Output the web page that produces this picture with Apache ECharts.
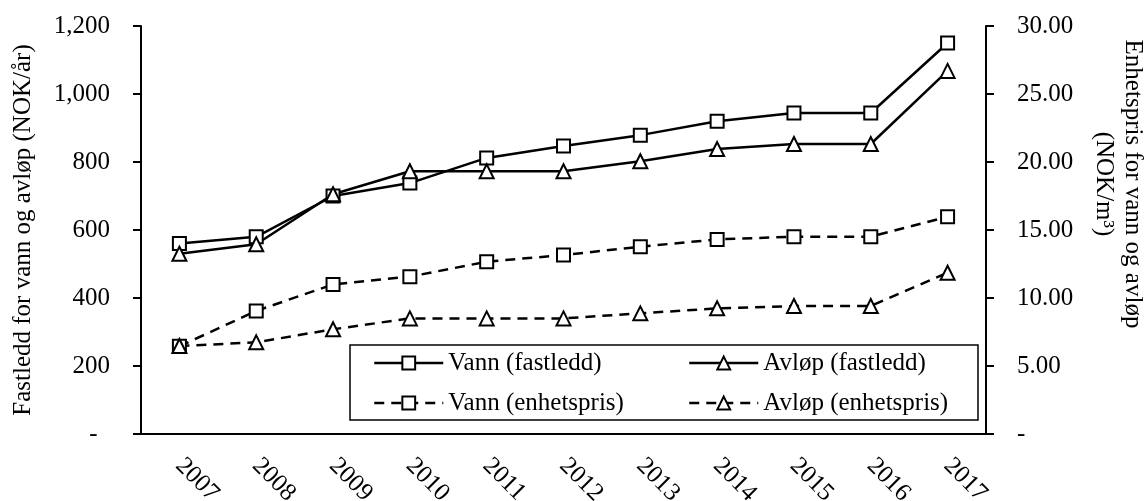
<!DOCTYPE html>
<html>
<head>
<meta charset="utf-8">
<script src="https://cdn.jsdelivr.net/npm/echarts@6/dist/echarts.min.js"></script>
<style>
html,body{margin:0;padding:0;background:#fff;}
#chart{width:1146px;height:501px;}
</style>
</head>
<body>
<div id="chart"></div>
<script>
const years = ['2007','2008','2009','2010','2011','2012','2013','2014','2015','2016','2017'];
const vannFastledd = [560, 580, 700, 738, 812, 847, 879, 920, 944, 944, 1150];
const avlopFastledd = [530, 558, 705, 773, 773, 773, 802, 838, 853, 853, 1068];
const vannEnhetspris = [6.45, 9.05, 11.0, 11.57, 12.67, 13.16, 13.77, 14.31, 14.51, 14.51, 15.98];
const avlopEnhetspris = [6.47, 6.74, 7.7, 8.5, 8.5, 8.5, 8.87, 9.24, 9.41, 9.41, 11.86];
const leftAxisName = 'Fastledd for vann og avløp (NOK/år)';
const rightAxisName = 'Enhetspris for vann og avløp\n(NOK/m³)';
const names = ['Vann (fastledd)', 'Avløp (fastledd)', 'Vann (enhetspris)', 'Avløp (enhetspris)'];

const FONT = '"Liberation Serif", "DejaVu Serif", serif';
const chart = echarts.init(document.getElementById('chart'));

function mkSeries(name, data, symbol, dashed, yIdx) {
  return {
    name: name,
    type: 'line',
    data: data,
    yAxisIndex: yIdx,
    symbol: symbol,
    symbolSize: symbol === 'triangle' ? 14 : 13,
    showAllSymbol: true,
    animation: false,
    lineStyle: { color: '#000', width: 2.5, type: dashed ? [10, 7] : 'solid' },
    itemStyle: { color: '#fff', borderColor: '#000', borderWidth: 2 },
    emphasis: { disabled: true }
  };
}

const legendCommon = {
  orient: 'vertical',
  itemWidth: 69,
  itemHeight: 16,
  itemGap: 14,
  padding: 0,
  lineStyle: { width: 2.5 },
  textStyle: { fontFamily: FONT, fontSize: 25, color: '#000', lineHeight: 26 },
  selectedMode: false
};

chart.setOption({
  animation: false,
  backgroundColor: '#fff',
  textStyle: { fontFamily: FONT },
  grid: { left: 141, right: 160, top: 26, bottom: 67, containLabel: false, outerBoundsMode: 'none' },
  legend: [
    Object.assign({}, legendCommon, { left: 373, top: 350, data: [names[0], names[2]] }),
    Object.assign({}, legendCommon, { left: 688, top: 350, data: [names[1], names[3]] })
  ],
  graphic: [{
    type: 'rect',
    shape: { x: 350, y: 345, width: 628, height: 75 },
    style: { fill: null, stroke: '#000', lineWidth: 1.5 },
    z: 1
  }],
  xAxis: {
    type: 'category',
    data: years,
    boundaryGap: true,
    axisLine: { lineStyle: { color: '#000', width: 2 } },
    axisTick: { show: false },
    axisLabel: { rotate: -45, margin: 28, fontFamily: FONT, fontSize: 25, color: '#000' },
    splitLine: { show: false }
  },
  yAxis: [{
    type: 'value',
    min: 0, max: 1200, interval: 200,
    name: leftAxisName,
    nameLocation: 'middle',
    nameGap: 105,
    nameTextStyle: { fontFamily: FONT, fontSize: 25, color: '#000' },
    axisLine: { show: true, lineStyle: { color: '#000', width: 2 } },
    axisTick: { show: true, length: 8, lineStyle: { color: '#000', width: 2 } },
    axisLabel: {
      margin: 31, fontFamily: FONT, fontSize: 25, color: '#000',
      formatter: v => v === 0 ? '-  ' : v.toLocaleString('en-US')
    },
    splitLine: { show: false }
  }, {
    type: 'value',
    position: 'right',
    min: 0, max: 30, interval: 5,
    name: rightAxisName,
    nameLocation: 'middle',
    nameRotate: -90,
    nameGap: 103,
    nameTextStyle: { fontFamily: FONT, fontSize: 25, color: '#000', lineHeight: 29, padding: [0, 92, 0, 0] },
    axisLine: { show: true, lineStyle: { color: '#000', width: 2 } },
    axisTick: { show: true, length: 8, lineStyle: { color: '#000', width: 2 } },
    axisLabel: {
      margin: 31, fontFamily: FONT, fontSize: 25, color: '#000',
      formatter: v => v === 0 ? '-' : v.toFixed(2)
    },
    splitLine: { show: false }
  }],
  series: [
    mkSeries(names[0], vannFastledd, 'rect', false, 0),
    mkSeries(names[1], avlopFastledd, 'triangle', false, 0),
    mkSeries(names[2], vannEnhetspris, 'rect', true, 1),
    mkSeries(names[3], avlopEnhetspris, 'triangle', true, 1)
  ]
});
</script>
</body>
</html>
